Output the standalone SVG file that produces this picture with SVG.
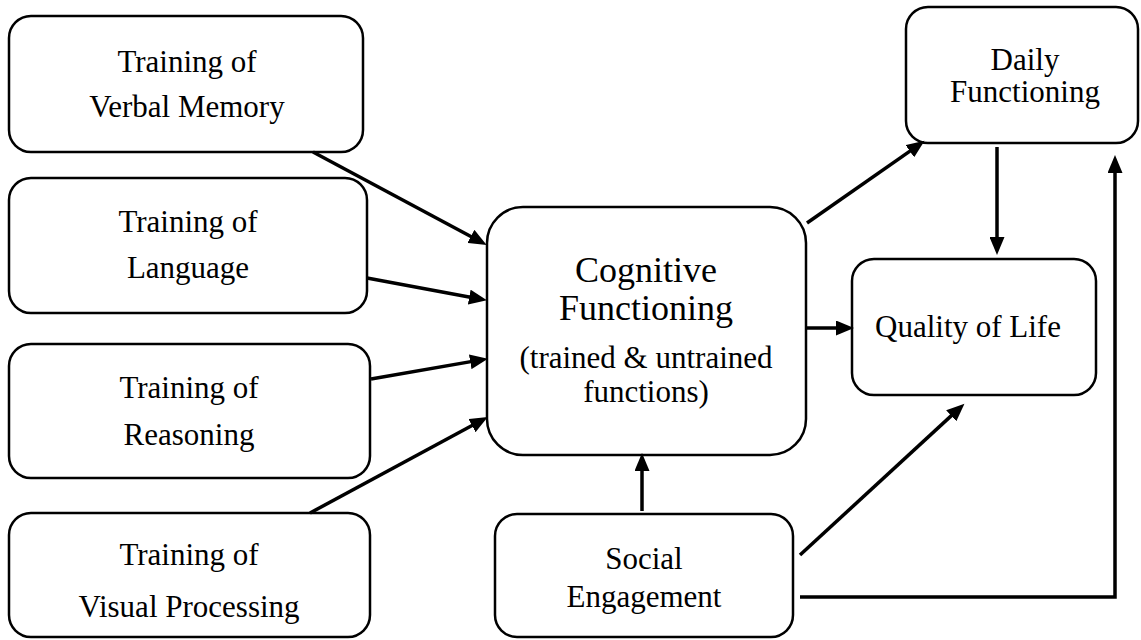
<svg xmlns="http://www.w3.org/2000/svg" width="1141" height="640" viewBox="0 0 1141 640">
<defs>
<style>
.box{fill:#fff;stroke:#000;stroke-width:2.5}
.t{font-family:'Liberation Serif','Times New Roman','DejaVu Serif',serif;font-size:31px;fill:#000;text-anchor:middle}
.big{font-size:36px}
.c{fill:none;stroke:#000;stroke-width:3.5;marker-end:url(#ah)}
</style>
<marker id="ah" markerUnits="userSpaceOnUse" markerWidth="19" markerHeight="15" refX="8" refY="7.5" orient="auto">
<path d="M0,0 L18,7.5 L0,15 z" fill="#000"/>
</marker>
</defs>
<rect width="1141" height="640" fill="#fff"/>
<g id="verbal">
<rect class="box" x="9" y="16" width="354" height="136" rx="22"/>
<text class="t" x="187" y="72">Training of</text>
<text class="t" x="187" y="117">Verbal Memory</text>
</g>
<g id="language">
<rect class="box" x="9" y="178" width="358" height="135" rx="22"/>
<text class="t" x="188" y="232">Training of</text>
<text class="t" x="188" y="278">Language</text>
</g>
<g id="reasoning">
<rect class="box" x="9" y="344" width="361" height="134" rx="22"/>
<text class="t" x="189" y="398">Training of</text>
<text class="t" x="189" y="445">Reasoning</text>
</g>
<g id="visual">
<rect class="box" x="9" y="513" width="361" height="124" rx="22"/>
<text class="t" x="189" y="565">Training of</text>
<text class="t" x="189" y="617">Visual Processing</text>
</g>
<g id="cognitive">
<rect class="box" x="487" y="207" width="319" height="248" rx="36"/>
<text class="t big" x="646" y="282">Cognitive</text>
<text class="t big" x="646" y="320">Functioning</text>
<text class="t" x="646" y="368">(trained &amp; untrained</text>
<text class="t" x="646" y="402">functions)</text>
</g>
<g id="daily">
<rect class="box" x="906" y="7" width="232" height="136" rx="22"/>
<text class="t" x="1025" y="70">Daily</text>
<text class="t" x="1025" y="102">Functioning</text>
</g>
<g id="qol">
<rect class="box" x="852" y="259" width="244" height="136" rx="22"/>
<text class="t" x="968" y="337">Quality of Life</text>
</g>
<g id="social">
<rect class="box" x="495" y="514" width="298" height="123" rx="22"/>
<text class="t" x="644" y="569">Social</text>
<text class="t" x="644" y="607">Engagement</text>
</g>
<g id="connectors">
<line class="c" x1="313" y1="152" x2="477.9" y2="240.2"/>
<line class="c" x1="367" y1="278" x2="477.1" y2="298.5"/>
<line class="c" x1="371" y1="379" x2="478.1" y2="360.4"/>
<line class="c" x1="310" y1="513" x2="479" y2="421.8"/>
<line class="c" x1="807" y1="223" x2="916.4" y2="146.6"/>
<line class="c" x1="807" y1="328" x2="844" y2="328"/>
<line class="c" x1="997" y1="147" x2="997" y2="245"/>
<line class="c" x1="642" y1="511" x2="642" y2="463"/>
<line class="c" x1="800" y1="555" x2="957.1" y2="410.4"/>
<polyline class="c" points="800,597 1115,597 1115,165"/>
</g>
</svg>
